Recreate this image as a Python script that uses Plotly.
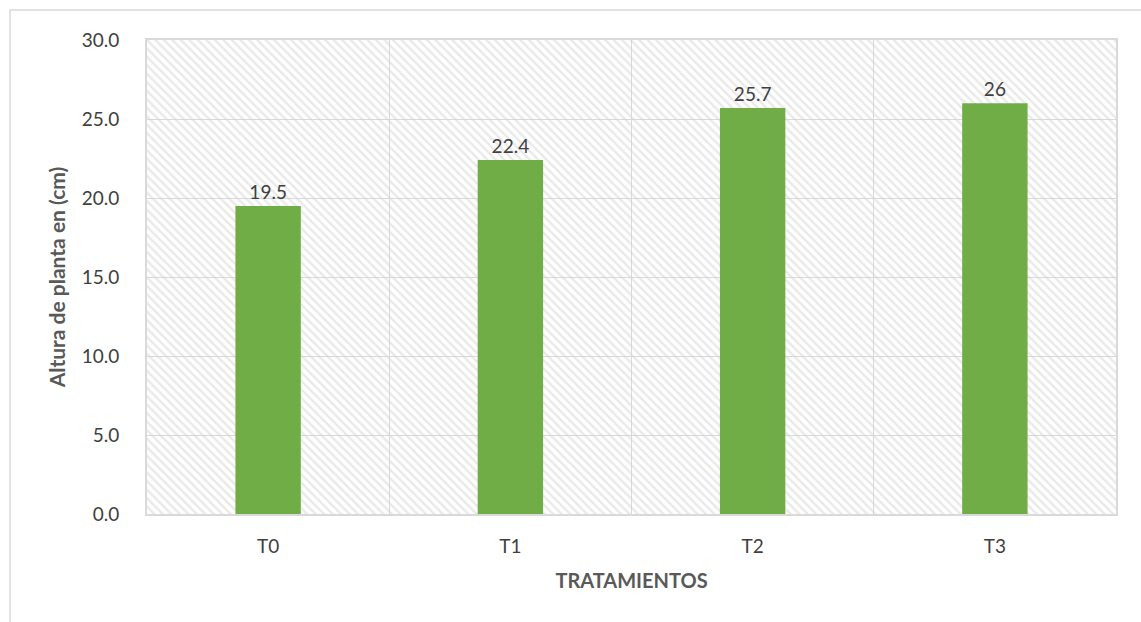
import plotly.graph_objects as go

# Altura de planta por tratamiento
tratamientos = ["T0", "T1", "T2", "T3"]
altura_cm = [19.5, 22.4, 25.7, 26]
y_max = 30.0

FONT = "Lato"
TXT = "#404040"
GRID = "#D9D9D9"
GREEN = "#70AD47"

fig = go.Figure()

# Fondo rayado del área de trazado
fig.add_trace(go.Bar(
    x=tratamientos,
    y=[y_max] * len(tratamientos),
    width=1,
    marker=dict(
        color="rgba(0,0,0,0)",
        line=dict(width=0),
        pattern=dict(shape="\\", fgcolor="#D3D3D3", bgcolor="rgba(0,0,0,0)",
                     size=6, solidity=0.4, fillmode="overlay"),
    ),
    hoverinfo="skip",
    showlegend=False,
))

fig.add_trace(go.Bar(
    x=tratamientos,
    y=altura_cm,
    width=0.27,
    marker=dict(color=GREEN, line=dict(width=0)),
    text=[f"{v:g}" for v in altura_cm],
    textposition="outside",
    textfont=dict(family=FONT, size=19, color=TXT),
    cliponaxis=False,
    showlegend=False,
))

fig.update_layout(
    width=1141, height=622,
    margin=dict(l=147, r=25, t=40, b=108),
    paper_bgcolor="white",
    plot_bgcolor="white",
    barmode="overlay",
    font=dict(family=FONT, color=TXT),
    xaxis=dict(
        tickson="boundaries",
        ticks="",
        showgrid=True, gridcolor=GRID, gridwidth=1,
        showline=True, linecolor=GRID, linewidth=2, mirror=True,
        ticklabelstandoff=14,
        tickfont=dict(family=FONT, size=19, color=TXT),
        title=dict(text="<b>TRATAMIENTOS</b>", font=dict(family=FONT, size=20, color="#595959"),
                   standoff=18),
    ),
    yaxis=dict(
        range=[0, y_max],
        tick0=0, dtick=5, tickformat=".1f",
        showgrid=True, gridcolor=GRID, gridwidth=1,
        showline=True, linecolor=GRID, linewidth=2, mirror=True,
        zeroline=False,
        ticks="", ticklabelstandoff=22,
        tickfont=dict(family=FONT, size=19, color=TXT),
        title=dict(text="<b>Altura de planta en (cm)</b>",
                   font=dict(family=FONT, size=21, color="#595959"), standoff=10),
    ),
    shapes=[dict(
        type="rect", xref="paper", yref="paper",
        x0=(10 - 147) / 969, x1=(1160 - 147) / 969,
        y0=(514 - 640) / 474, y1=(514 - 10) / 474,
        line=dict(color=GRID, width=1.5), fillcolor="rgba(0,0,0,0)", layer="below",
    )],
)

fig.write_html("out.html")
